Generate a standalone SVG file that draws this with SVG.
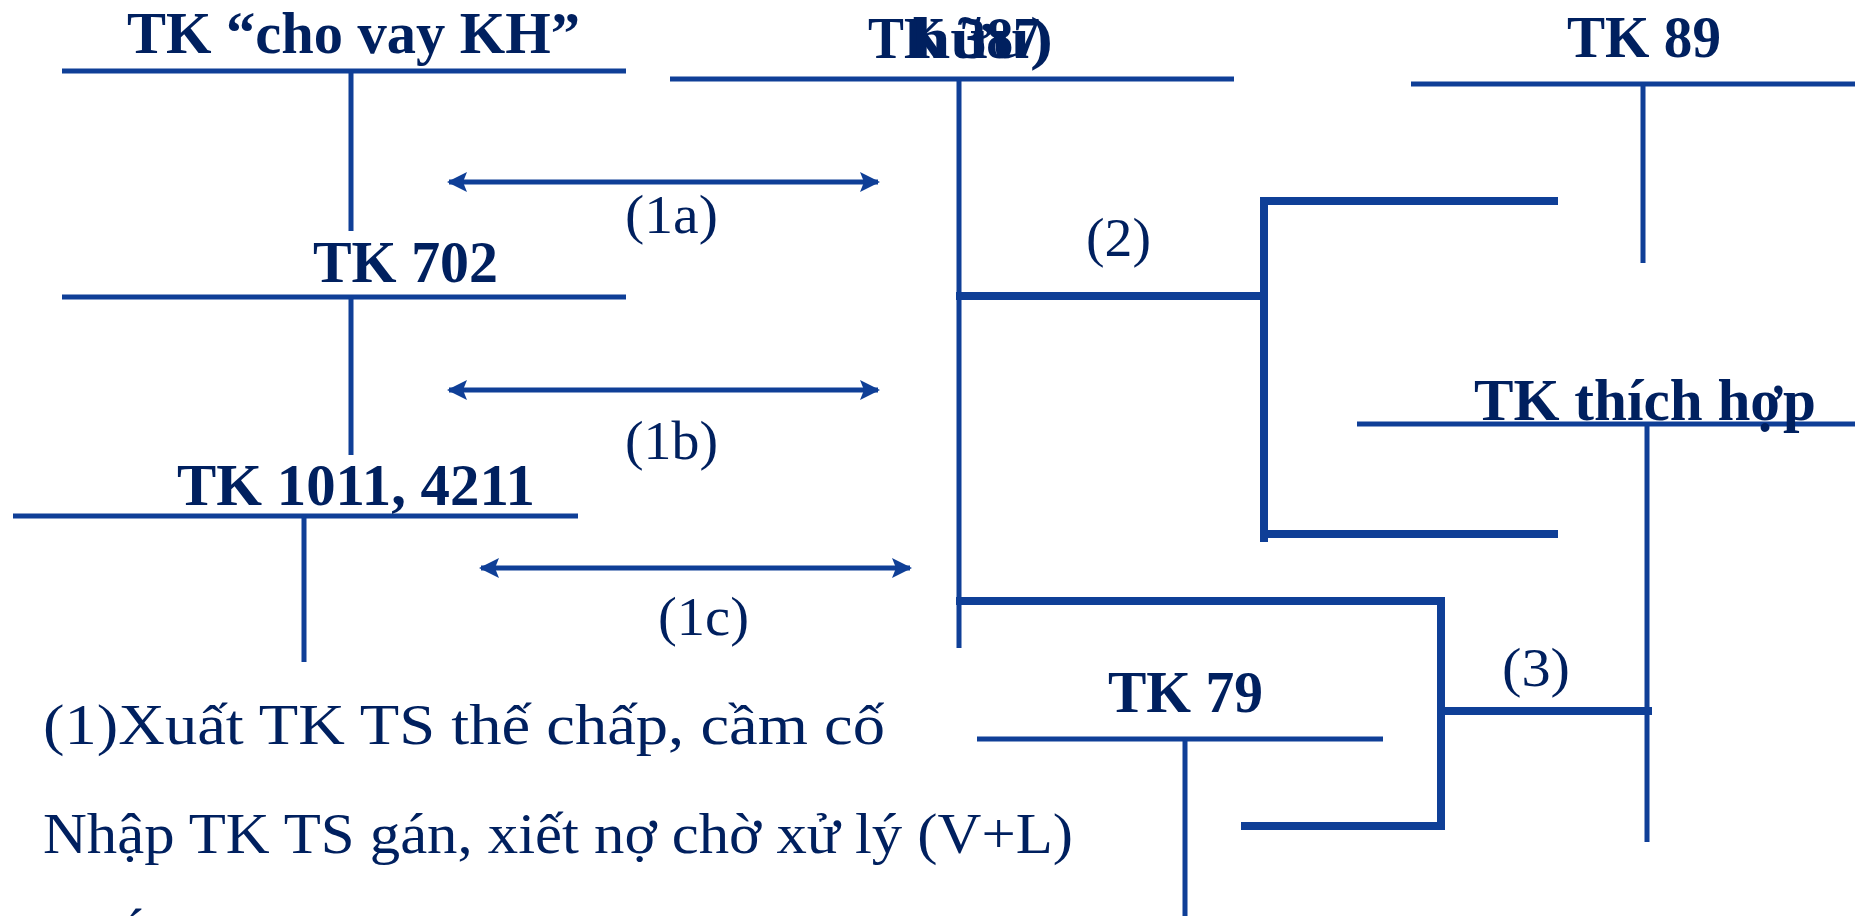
<svg xmlns="http://www.w3.org/2000/svg" width="1855" height="916" viewBox="0 0 1855 916">
  <defs>
    <marker id="ah" viewBox="0 0 20 20" refX="18" refY="10" markerWidth="20" markerHeight="20" markerUnits="userSpaceOnUse" orient="auto-start-reverse">
      <path d="M0,0 L20,10 L0,20 L4,10 Z" fill="#0f3f97"/>
    </marker>
  </defs>
  <style>
    .t { stroke: #0f3f97; stroke-width: 5; fill: none; }
    .thick { stroke: #0f3f97; stroke-width: 8; fill: none; stroke-linecap: square; }
    .arr { stroke: #0f3f97; stroke-width: 5; fill: none; }
    .title { font-family: "Liberation Serif", "Times New Roman", serif; font-weight: bold; font-size: 60px; fill: #00205f; }
    .lbl { font-family: "Liberation Serif", "Times New Roman", serif; font-size: 54px; fill: #00205f; }
    .body { font-family: "Liberation Serif", "Times New Roman", serif; font-size: 56px; fill: #00205f; }
  </style>
  <rect width="1855" height="916" fill="#ffffff"/>

  <!-- T-accounts -->
  <g id="tk-cho-vay">
    <line class="t" x1="62" y1="71" x2="626" y2="71"/>
    <line class="t" x1="351" y1="71" x2="351" y2="231"/>
    <text class="title" x="127" y="53" textLength="453" lengthAdjust="spacingAndGlyphs">TK “cho vay KH”</text>
  </g>
  <g id="tk-702">
    <line class="t" x1="62" y1="297" x2="626" y2="297"/>
    <line class="t" x1="351" y1="297" x2="351" y2="455"/>
    <text class="title" x="313" y="282" textLength="185" lengthAdjust="spacingAndGlyphs">TK 702</text>
  </g>
  <g id="tk-1011">
    <line class="t" x1="13" y1="516" x2="578" y2="516"/>
    <line class="t" x1="304" y1="516" x2="304" y2="662"/>
    <text class="title" x="177" y="505" textLength="358" lengthAdjust="spacingAndGlyphs">TK 1011, 4211</text>
  </g>
  <g id="tk-387">
    <line class="t" x1="670" y1="79" x2="1234" y2="79"/>
    <line class="t" x1="959" y1="79" x2="959" y2="648"/>
    <text class="title" x="868" y="58" textLength="172" lengthAdjust="spacingAndGlyphs">TK 387</text>
    <text class="title" x="912" y="58" textLength="141" lengthAdjust="spacingAndGlyphs">hữu)</text>
  </g>
  <g id="tk-89">
    <line class="t" x1="1411" y1="84" x2="1855" y2="84"/>
    <line class="t" x1="1643" y1="84" x2="1643" y2="263"/>
    <text class="title" x="1567" y="57" textLength="154" lengthAdjust="spacingAndGlyphs">TK 89</text>
  </g>
  <g id="tk-thich-hop">
    <line class="t" x1="1357" y1="424" x2="1855" y2="424"/>
    <line class="t" x1="1647" y1="424" x2="1647" y2="842"/>
    <text class="title" x="1474" y="420" textLength="342" lengthAdjust="spacingAndGlyphs">TK thích hợp</text>
  </g>
  <g id="tk-79">
    <line class="t" x1="977" y1="739" x2="1383" y2="739"/>
    <line class="t" x1="1185" y1="739" x2="1185" y2="916"/>
    <text class="title" x="1108" y="712" textLength="155" lengthAdjust="spacingAndGlyphs">TK 79</text>
  </g>

  <!-- connectors -->
  <g id="connectors">
    <line class="arr" x1="449" y1="182" x2="878" y2="182" marker-start="url(#ah)" marker-end="url(#ah)"/>
    <line class="arr" x1="449" y1="390" x2="878" y2="390" marker-start="url(#ah)" marker-end="url(#ah)"/>
    <line class="arr" x1="481" y1="568" x2="910" y2="568" marker-start="url(#ah)" marker-end="url(#ah)"/>
    <!-- (2) split towards TK 89 and TK thich hop -->
    <line class="thick" x1="960" y1="296" x2="1263" y2="296"/>
    <polyline class="thick" points="1554,201 1264,201 1264,538"/>
    <line class="thick" x1="1264" y1="534" x2="1554" y2="534"/>
    <!-- (3) towards TK thich hop and TK 79 -->
    <polyline class="thick" points="960,601 1441,601 1441,826 1245,826"/>
    <line class="thick" x1="1441" y1="711" x2="1648" y2="711"/>
    <text class="lbl" x="625" y="233" textLength="93" lengthAdjust="spacingAndGlyphs">(1a)</text>
    <text class="lbl" x="625" y="459" textLength="93" lengthAdjust="spacingAndGlyphs">(1b)</text>
    <text class="lbl" x="658" y="635" textLength="91" lengthAdjust="spacingAndGlyphs">(1c)</text>
    <text class="lbl" x="1086" y="256" textLength="65" lengthAdjust="spacingAndGlyphs">(2)</text>
    <text class="lbl" x="1502" y="686" textLength="68" lengthAdjust="spacingAndGlyphs">(3)</text>
  </g>

  <!-- notes -->
  <g id="notes">
    <text class="body" x="43" y="744" textLength="842" lengthAdjust="spacingAndGlyphs">(1)Xuất TK TS thế chấp, cầm cố</text>
    <text class="body" x="43" y="853" textLength="1030" lengthAdjust="spacingAndGlyphs">Nhập TK TS gán, xiết nợ chờ xử lý (V+L)</text>
    <text class="body" x="126" y="948">´</text>
  </g>
</svg>
